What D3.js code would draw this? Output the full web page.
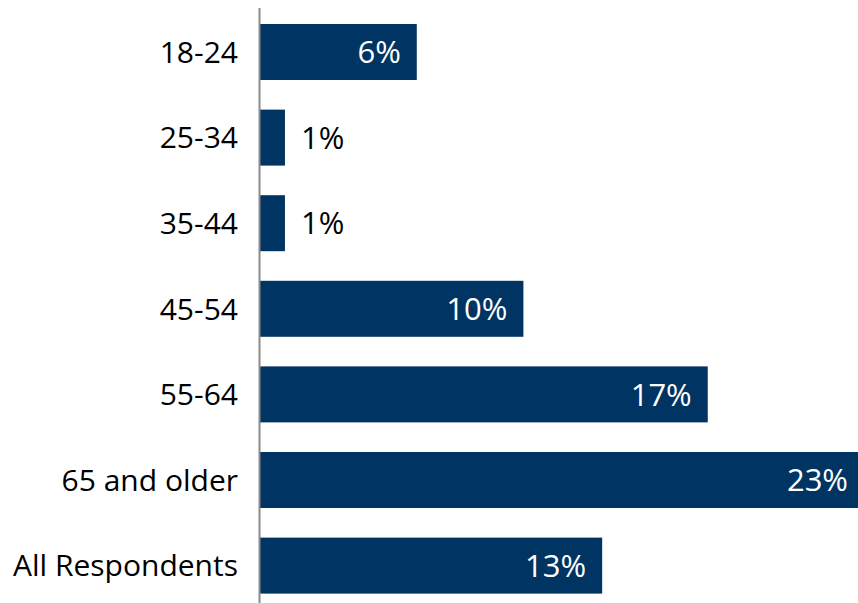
<!DOCTYPE html>
<html>
<head>
<meta charset="utf-8">
<script src="https://cdn.jsdelivr.net/npm/d3@7"></script>
<style>
  body { margin: 0; background: #fff; }
  svg text { font-family: "Open Sans", sans-serif; }
</style>
</head>
<body>
<div id="chart"></div>
<script>
const categories = ['18-24', '25-34', '35-44', '45-54', '55-64', '65 and older', 'All Respondents'];
const values = [5.97, 0.95, 0.95, 10.03, 17.05, 23.0, 13.03];
const labels = ['6%', '1%', '1%', '10%', '17%', '23%', '13%'];

const W = 858, H = 603;

const svg = d3.select('#chart')
    .append('svg')
    .attr('width', W)
    .attr('height', H);

const data = categories.map((c, i) => ({cat: c, value: values[i], label: labels[i]}));

// the longest bar runs a little past the right edge, as in the original
const x = d3.scaleLinear()
    .domain([0, 23])
    .range([260, 864]);

const y = d3.scaleBand()
    .domain(categories)
    .range([9.2, 608.4])
    .paddingInner(0.346)
    .paddingOuter(0.173);

// bars
svg.selectAll('rect.bar')
    .data(data)
    .enter()
    .append('rect')
    .attr('class', 'bar')
    .attr('x', x(0))
    .attr('y', d => y(d.cat))
    .attr('width', d => x(d.value) - x(0))
    .attr('height', y.bandwidth())
    .attr('fill', '#003462');

// axis line
svg.append('line')
    .attr('x1', x(0) - 0.5).attr('x2', x(0) - 0.5)
    .attr('y1', 8).attr('y2', H)
    .attr('stroke', '#8c8c8c')
    .attr('stroke-width', 2);

// category labels
svg.selectAll('text.cat')
    .data(data)
    .enter()
    .append('text')
    .attr('class', 'cat')
    .attr('x', 238)
    .attr('y', d => y(d.cat) + y.bandwidth() / 2)
    .attr('dy', '0.36em')
    .attr('text-anchor', 'end')
    .attr('fill', '#000')
    .style('font-size', '30px')
    .text(d => d.cat);

// value labels
svg.selectAll('text.val')
    .data(data)
    .enter()
    .append('text')
    .attr('class', 'val')
    .attr('x', d => d.value < 3 ? x(d.value) + 16 : x(d.value) - 16)
    .attr('y', d => y(d.cat) + y.bandwidth() / 2)
    .attr('dy', '0.36em')
    .attr('text-anchor', d => d.value < 3 ? 'start' : 'end')
    .attr('fill', d => d.value < 3 ? '#000' : '#fff')
    .style('font-size', '31px')
    .text(d => d.label);
</script>
</body>
</html>
